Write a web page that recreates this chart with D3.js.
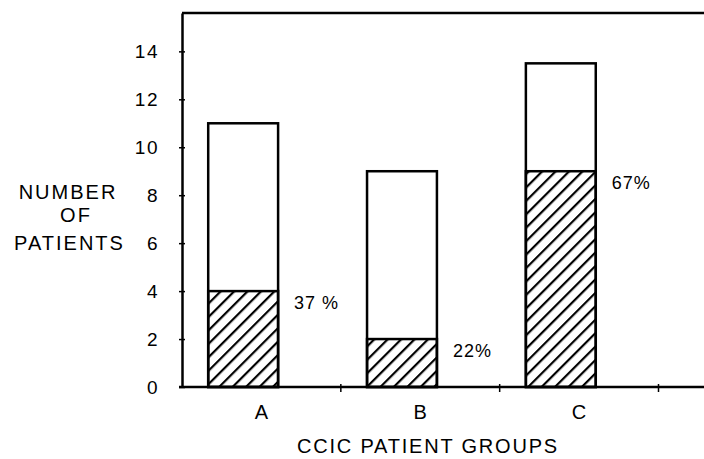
<!DOCTYPE html>
<html>
<head>
<meta charset="utf-8">
<script src="https://cdn.jsdelivr.net/npm/d3@7"></script>
<style>
  body { margin: 0; background: #fff; }
  text { font-family: "Liberation Sans", Arial, sans-serif; fill: #000; }
</style>
</head>
<body>
<div id="chart"></div>
<script>
// CCIC patient groups - stacked bar (total vs hatched part)

const groups = ["A", "B", "C"];
const totals = [11, 9, 13.5];
const hatched = [4, 2, 9];
const pctLabels = ["37 %", "22%", "67%"];
const yTicks = [0, 2, 4, 6, 8, 10, 12, 14];

const W = 704, H = 459;
const plotLeft = 182, plotBottom = 387, plotTop = 13;

const svg = d3.select("#chart")
  .append("svg")
    .attr("width", W)
    .attr("height", H);

// hatch pattern for the lower part of each bar
svg.append("defs").append("pattern")
    .attr("id", "hatch")
    .attr("patternUnits", "userSpaceOnUse")
    .attr("width", 9.5)
    .attr("height", 9.5)
    .attr("patternTransform", "rotate(45)")
  .append("line")
    .attr("x1", 0).attr("y1", 0)
    .attr("x2", 0).attr("y2", 9.5)
    .attr("stroke", "#000")
    .attr("stroke-width", 4.4);

// scales
const x = d3.scaleBand()
  .domain(groups)
  .range([plotLeft, 658.5])
  .padding(0);

const y = d3.scaleLinear()
  .domain([0, 15.6])
  .range([plotBottom, plotTop]);

const data = groups.map((g, i) => ({g: g, total: totals[i], part: hatched[i], pct: pctLabels[i]}));

const barX = d => x(d.g) + x.bandwidth() * 0.165;
const barW = x.bandwidth() * 0.44;

// frame: top line and baseline run to the right edge
svg.append("line")
  .attr("x1", plotLeft).attr("x2", W)
  .attr("y1", plotTop).attr("y2", plotTop)
  .attr("stroke", "#000").attr("stroke-width", 2.5);

// bars - open upper part
svg.selectAll("rect.total")
  .data(data)
  .enter().append("rect")
    .attr("class", "total")
    .attr("x", barX)
    .attr("y", d => y(d.total))
    .attr("width", barW)
    .attr("height", d => y(0) - y(d.total))
    .attr("fill", "#fff")
    .attr("stroke", "#000")
    .attr("stroke-width", 2.5);

// bars - hatched lower part
svg.selectAll("rect.part")
  .data(data)
  .enter().append("rect")
    .attr("class", "part")
    .attr("x", barX)
    .attr("y", d => y(d.part))
    .attr("width", barW)
    .attr("height", d => y(0) - y(d.part))
    .attr("fill", "url(#hatch)")
    .attr("stroke", "#000")
    .attr("stroke-width", 2.5);

// percent labels
svg.selectAll("text.pct")
  .data(data)
  .enter().append("text")
    .attr("class", "pct")
    .attr("x", d => barX(d) + barW + 16)
    .attr("y", d => y(d.part) + 18)
    .attr("font-size", 18)
    .attr("letter-spacing", "1px")
    .text(d => d.pct);

// y axis
const yAxis = svg.append("g")
  .attr("transform", "translate(" + plotLeft + ",0)")
  .call(d3.axisLeft(y).tickValues(yTicks).tickSize(0).tickPadding(23));
yAxis.select(".domain").attr("stroke-width", 2.5);
yAxis.selectAll(".tick text")
  .attr("font-size", 19)
  .attr("letter-spacing", "1.5px")
  .attr("font-family", "Liberation Sans, Arial, sans-serif");
yAxis.selectAll(".tick").append("line")
  .attr("x1", -3).attr("x2", 3)
  .attr("stroke", "#000").attr("stroke-width", 1.5);

// x axis baseline
const xAxis = svg.append("g")
  .attr("transform", "translate(0," + plotBottom + ")");
xAxis.append("line")
  .attr("x1", plotLeft - 3).attr("x2", W)
  .attr("stroke", "#000").attr("stroke-width", 2.5);
xAxis.selectAll("line.tk")
  .data(groups)
  .enter().append("line")
    .attr("class", "tk")
    .attr("x1", d => x(d) + x.bandwidth())
    .attr("x2", d => x(d) + x.bandwidth())
    .attr("y1", -3).attr("y2", 5)
    .attr("stroke", "#000").attr("stroke-width", 1.5);
xAxis.selectAll("text.cat")
  .data(groups)
  .enter().append("text")
    .attr("class", "cat")
    .attr("x", d => x(d) + x.bandwidth() / 2)
    .attr("y", 32)
    .attr("text-anchor", "middle")
    .attr("font-size", 20)
    .text(d => d);

// axis titles
svg.append("text")
  .attr("x", 428).attr("y", 453)
  .attr("text-anchor", "middle")
  .attr("font-size", 20)
  .attr("letter-spacing", "1.8px")
  .text("CCIC PATIENT GROUPS");

const yTitle = [["NUMBER", 68, 198.5], ["OF", 76, 222], ["PATIENTS", 69.5, 249.5]];
svg.selectAll("text.ytitle")
  .data(yTitle)
  .enter().append("text")
    .attr("class", "ytitle")
    .attr("x", d => d[1])
    .attr("y", d => d[2])
    .attr("text-anchor", "middle")
    .attr("font-size", 20)
    .attr("letter-spacing", "2px")
    .text(d => d[0]);
</script>
</body>
</html>
